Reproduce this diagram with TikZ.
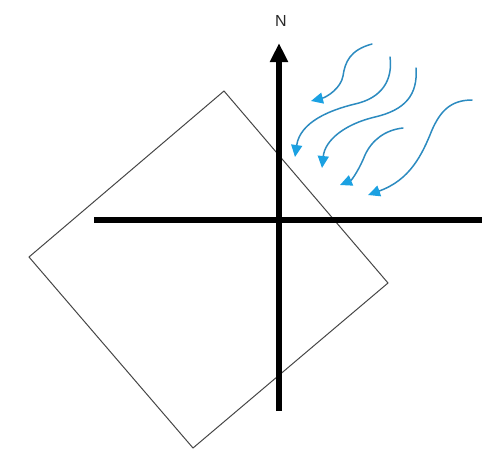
\documentclass[tikz,border=0pt]{standalone}
\usepackage{fontspec}
\setmainfont{Liberation Sans}
\usetikzlibrary{arrows.meta}
\definecolor{windline}{HTML}{2C8BC0}
\definecolor{windhead}{HTML}{1BA1E2}
\tikzset{
  axisline/.style={line width=6pt},
  outline/.style={line width=1pt, draw={rgb,255:red,70;green,70;blue,70}},
  wind/.style={line width=1.5pt, draw=windline, line cap=round,
    -{Triangle[width=11pt,length=12pt,color=windhead,fill=windhead]}},
}
\begin{document}
\begin{tikzpicture}[x=1pt,y=-1pt]
\useasboundingbox (0,0) rectangle (488,451);
% rotated square
\coordinate (sqT) at (224,91);
\coordinate (sqR) at (388,283);
\coordinate (sqB) at (193,448);
\coordinate (sqL) at (29,257);
\draw[outline] (sqT) -- (sqR) -- (sqB) -- (sqL) -- cycle;
% axes
\coordinate (xl) at (94,220);
\coordinate (xr) at (482,220);
\coordinate (yb) at (279,411);
\coordinate (yt) at (279,43);
\draw[axisline] (xl) -- (xr);
\draw[axisline, -{Triangle[width=17pt,length=19pt]}] (yb) -- (yt);
\node[font=\fontsize{16}{18}\selectfont, text={rgb,255:red,40;green,40;blue,40}] (N) at (281,21) {N};
% wind arrows
\draw[wind] (372,44) .. controls (350,50) and (345,62) .. (343,76) .. controls (341,88) and (327,97) .. (311,101);
\draw[wind] (390,57) .. controls (393,80) and (382,98) .. (355,104) .. controls (330,110) and (300,122) .. (295,157);
\draw[wind] (416,68) .. controls (418,95) and (405,110) .. (375,117) .. controls (345,124) and (325,140) .. (322,168);
\draw[wind] (403,128) .. controls (385,130) and (372,140) .. (365,155) .. controls (360,168) and (352,180) .. (340,185);
\draw[wind] (472,100) .. controls (450,100) and (440,112) .. (432,130) .. controls (422,155) and (410,180) .. (368,195);
\end{tikzpicture}
\end{document}
